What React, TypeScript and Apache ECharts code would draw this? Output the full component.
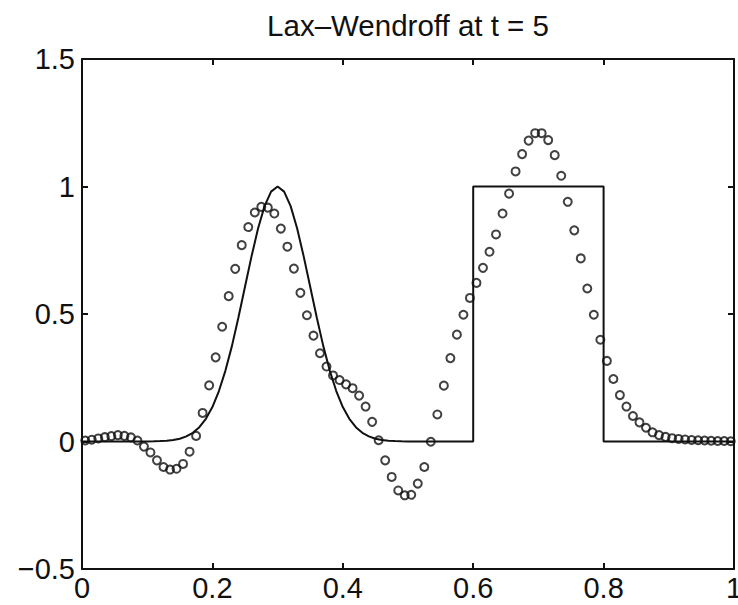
import React, { useEffect, useRef } from "react";
import * as echarts from "echarts";

const titleText = "Lax\u2013Wendroff at t = 5";

const xTickValues = [0, 0.2, 0.4, 0.6, 0.8, 1];
const yTickValues = [-0.5, 0, 0.5, 1, 1.5];

// exact solution (solid line)
const exactX = [
  0, 0.05, 0.1, 0.11, 0.12, 0.13, 0.14, 0.15, 0.16, 0.17, 0.18, 0.19, 0.2,
  0.21, 0.22, 0.23, 0.24, 0.25, 0.26, 0.27, 0.28, 0.29, 0.3, 0.31, 0.32, 0.33,
  0.34, 0.35, 0.36, 0.37, 0.38, 0.39, 0.4, 0.41, 0.42, 0.43, 0.44, 0.45, 0.46,
  0.47, 0.48, 0.49, 0.5, 0.6, 0.6, 0.8, 0.8, 1,
];
const exactY = [
  0, 0, 0.0003, 0.0007, 0.0015, 0.003, 0.006, 0.011, 0.02, 0.034, 0.056, 0.089,
  0.135, 0.198, 0.278, 0.375, 0.487, 0.607, 0.726, 0.835, 0.923, 0.98, 1, 0.98,
  0.923, 0.835, 0.726, 0.607, 0.487, 0.375, 0.278, 0.198, 0.135, 0.089, 0.056,
  0.034, 0.02, 0.011, 0.006, 0.003, 0.0015, 0.0007, 0.0003, 0, 1, 1, 0, 0,
];

// Lax-Wendroff numerical solution (circles)
const lwX = [
  0.005, 0.015, 0.025, 0.035, 0.045, 0.055, 0.065, 0.075, 0.085, 0.095,
  0.105, 0.115, 0.125, 0.135, 0.145, 0.155, 0.165, 0.175, 0.185, 0.195,
  0.205, 0.215, 0.225, 0.235, 0.245, 0.255, 0.265, 0.275, 0.285, 0.295,
  0.305, 0.315, 0.325, 0.335, 0.345, 0.355, 0.365, 0.375, 0.385, 0.395,
  0.405, 0.415, 0.425, 0.435, 0.445, 0.455, 0.465, 0.475, 0.485, 0.495,
  0.505, 0.515, 0.525, 0.535, 0.545, 0.555, 0.565, 0.575, 0.585, 0.595,
  0.605, 0.615, 0.625, 0.635, 0.645, 0.655, 0.665, 0.675, 0.685, 0.695,
  0.705, 0.715, 0.725, 0.735, 0.745, 0.755, 0.765, 0.775, 0.785, 0.795,
  0.805, 0.815, 0.825, 0.835, 0.845, 0.855, 0.865, 0.875, 0.885, 0.895,
  0.905, 0.915, 0.925, 0.935, 0.945, 0.955, 0.965, 0.975, 0.985, 0.995,
];
const lwY = [
  0.004, 0.007, 0.012, 0.017, 0.021, 0.025, 0.022, 0.016, 0.004, -0.02,
  -0.043, -0.074, -0.1, -0.11, -0.107, -0.088, -0.04, 0.022, 0.112, 0.22,
  0.33, 0.45, 0.57, 0.677, 0.77, 0.841, 0.898, 0.92, 0.917, 0.894,
  0.835, 0.764, 0.678, 0.583, 0.495, 0.415, 0.346, 0.294, 0.259, 0.241,
  0.224, 0.209, 0.18, 0.137, 0.077, 0.005, -0.074, -0.139, -0.192, -0.211,
  -0.209, -0.165, -0.1, -0.001, 0.106, 0.219, 0.327, 0.419, 0.497, 0.563,
  0.622, 0.681, 0.744, 0.812, 0.894, 0.972, 1.059, 1.127, 1.18, 1.209,
  1.209, 1.182, 1.123, 1.042, 0.94, 0.828, 0.718, 0.6, 0.497, 0.399,
  0.316, 0.245, 0.182, 0.137, 0.1, 0.075, 0.054, 0.036, 0.025, 0.018,
  0.013, 0.01, 0.008, 0.006, 0.005, 0.004, 0.003, 0.002, 0.002, 0.001,
];

const INK = "#111";
const FONT = "'Liberation Sans', Arial, Helvetica, sans-serif";

export default function App() {
  const ref = useRef<HTMLDivElement>(null);

  useEffect(() => {
    if (!ref.current) return;
    const chart = echarts.init(ref.current, null, { renderer: "svg" });

    const fmt = (v: number) => String(v).replace("-", "\u2212");
    const lineStyle = { color: INK, width: 2 };

    const xBase = {
      type: "value" as const,
      min: xTickValues[0],
      max: xTickValues[xTickValues.length - 1],
      interval: 0.2,
      splitLine: { show: false },
      axisLine: { show: true, onZero: false, lineStyle },
      axisTick: { show: true, inside: true, length: 6, lineStyle },
    };
    const yBase = {
      type: "value" as const,
      min: yTickValues[0],
      max: yTickValues[yTickValues.length - 1],
      interval: 0.5,
      splitLine: { show: false },
      axisLine: { show: true, onZero: false, lineStyle },
      axisTick: { show: true, inside: true, length: 6, lineStyle },
    };

    chart.setOption({
      animation: false,
      backgroundColor: "#fff",
      grid: {
        left: 82,
        top: 59,
        right: 4,
        bottom: 36,
        containLabel: false,
        outerBoundsMode: "none",
      },
      graphic: [
        {
          type: "text",
          x: 408,
          y: 25,
          style: {
            text: titleText,
            font: `29.5px ${FONT}`,
            fill: INK,
            textAlign: "center",
            textVerticalAlign: "middle",
          },
        },
      ],
      xAxis: [
        {
          ...xBase,
          position: "bottom",
          axisLabel: {
            show: true,
            fontSize: 29,
            fontFamily: FONT,
            color: INK,
            margin: 4,
            lineHeight: 29,
            formatter: fmt,
          },
        },
        { ...xBase, position: "top", axisLabel: { show: false } },
      ],
      yAxis: [
        {
          ...yBase,
          position: "left",
          axisLabel: {
            show: true,
            fontSize: 29,
            fontFamily: FONT,
            color: INK,
            margin: 7,
            formatter: fmt,
          },
        },
        { ...yBase, position: "right", axisLabel: { show: false } },
      ],
      series: [
        {
          type: "line",
          xAxisIndex: 0,
          yAxisIndex: 0,
          data: exactX.map((x, i) => [x, exactY[i]]),
          showSymbol: false,
          symbol: "none",
          lineStyle: { color: INK, width: 2 },
          z: 2,
        },
        {
          type: "scatter",
          xAxisIndex: 0,
          yAxisIndex: 0,
          data: lwX.map((x, i) => [x, lwY[i]]),
          symbol: "circle",
          symbolSize: 8,
          itemStyle: { color: "rgba(0,0,0,0)", borderColor: INK, borderWidth: 2 },
          z: 3,
        },
      ],
    });

    return () => chart.dispose();
  }, []);

  return (
    <div
      ref={ref}
      style={{ position: "absolute", left: 0, top: 0, width: 738, height: 605 }}
    />
  );
}
